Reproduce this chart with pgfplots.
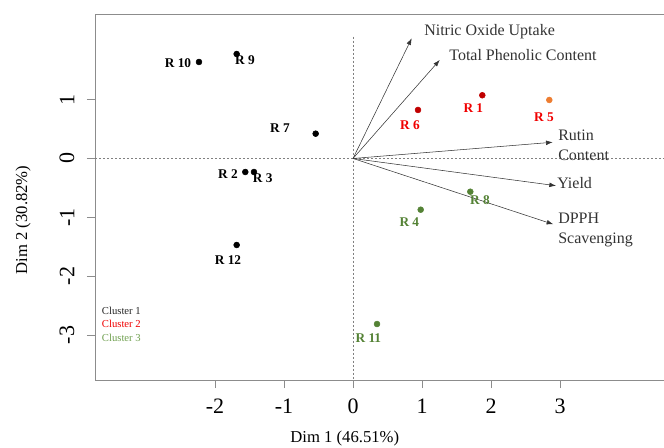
\documentclass[border=0pt]{standalone}
\usepackage{fontspec}
\setmainfont{Liberation Serif}
\usepackage{pgfplots}
\pgfplotsset{compat=1.18}
\usetikzlibrary{arrows.meta}

\definecolor{c1}{HTML}{000000}
\definecolor{c2pt}{HTML}{C00000}
\definecolor{c2lab}{HTML}{F00000}
\definecolor{c5pt}{HTML}{ED7D31}
\definecolor{c3}{HTML}{548235}
\definecolor{leg3}{HTML}{70A050}
\definecolor{vec}{HTML}{333333}
\definecolor{frame}{HTML}{8C8C8C}

\begin{document}
\begin{tikzpicture}
\begin{axis}[
    at={(71.25pt,50.25pt)}, anchor=south west,
    scale only axis,
    width=426.75pt, height=274.5pt,
    xmin=-3.739, xmax=4.507,
    ymin=-3.767, ymax=2.457,
    axis line style={draw=none},
    tick align=outside,
    xtick pos=left, ytick pos=left,
    major tick length=6pt,
    tick style={frame, thin},
    xtick={-2,-1,0,1,2,3},
    xticklabels={{-2},{-1},0,1,2,3},
    ytick={-3,-2,-1,0,1},
    yticklabels={{-3},{-2},{-1},0,1},
    ticklabel style={font=\fontsize{16.5}{18}\selectfont},
    xticklabel style={anchor=center, yshift=-14pt},
    yticklabel style={anchor=center, xshift=-15pt, rotate=90},
    xlabel={Dim 1 (46.51\%)},
    ylabel={Dim 2 (30.82\%)},
    every axis x label/.style={at={(axis description cs:0.439,0)}, anchor=center, yshift=-43.5pt, font=\fontsize{12.5}{14}\selectfont},
    every axis y label/.style={at={(axis description cs:0,0.437)}, anchor=center, xshift=-54pt, rotate=90, font=\fontsize{12.5}{14}\selectfont},
    clip=false,
]
% frame: left, bottom, top (right side runs off the picture)
\draw[frame] (rel axis cs:1,1) -- (rel axis cs:0,1) -- (rel axis cs:0,0) -- (rel axis cs:1,0);

% reference lines
\addplot[gray, thin, dash pattern=on 1.5pt off 1.5pt] coordinates {(-3.739,0) (4.507,0)};
\addplot[gray, thin, dash pattern=on 1.5pt off 1.5pt] coordinates {(0,2.071) (0,-3.767)};

% variable vectors
\tikzset{vlab/.style={anchor=west, inner sep=0pt, align=left, font=\fontsize{12}{15}\selectfont}}
\addplot[vec, thin, -{Latex[length=5pt,width=3.5pt]}] coordinates {(0,0) (0.851,2.044)}
    node[vlab, xshift=9.2pt, yshift=5pt] {Nitric Oxide Uptake};
\addplot[vec, thin, -{Latex[length=5pt,width=3.5pt]}] coordinates {(0,0) (1.257,1.675)}
    node[vlab, xshift=7pt, yshift=3.75pt] {Total Phenolic Content};
\addplot[vec, thin, -{Latex[length=5pt,width=3.5pt]}] coordinates {(0,0) (2.894,0.276)}
    node[vlab, xshift=4pt, yshift=-2pt] {Rutin\\Content};
\addplot[vec, thin, -{Latex[length=5pt,width=3.5pt]}] coordinates {(0,0) (2.942,-0.463)}
    node[vlab, xshift=0.75pt, yshift=2pt] {Yield};
\addplot[vec, thin, -{Latex[length=5pt,width=3.5pt]}] coordinates {(0,0) (2.903,-1.119)}
    node[vlab, xshift=3.5pt, yshift=-4.3pt] {DPPH\\Scavenging};

% individuals
\tikzset{plab/.style={inner sep=0pt, font=\fontsize{10}{12}\selectfont\bfseries}}
% cluster 1
\addplot[only marks, mark=*, mark size=2.2pt, c1] coordinates {(-2.232,1.641)} node[plab, text=c1, xshift=-15.75pt, yshift=-0.5pt] {R 10};
\addplot[only marks, mark=*, mark size=2.2pt, c1] coordinates {(-1.686,1.777)} node[plab, text=c1, xshift=6.2pt, yshift=-5pt] {R 9};
\addplot[only marks, mark=*, mark size=2.2pt, c1] coordinates {(-0.541,0.422)} node[plab, text=c1, xshift=-26.8pt, yshift=4.5pt] {R 7};
\addplot[only marks, mark=*, mark size=2.2pt, c1] coordinates {(-1.561,-0.230)} node[plab, text=c1, xshift=-13pt, yshift=-1.5pt] {R 2};
\addplot[only marks, mark=*, mark size=2.2pt, c1] coordinates {(-1.435,-0.230)} node[plab, text=c1, xshift=6.5pt, yshift=-4.5pt] {R 3};
\addplot[only marks, mark=*, mark size=2.2pt, c1] coordinates {(-1.686,-1.471)} node[plab, text=c1, xshift=-6.5pt, yshift=-11.25pt] {R 12};
% cluster 2
\addplot[only marks, mark=*, mark size=2.2pt, c2pt] coordinates {(0.942,0.825)} node[plab, text=c2lab, xshift=-6pt, yshift=-11.25pt] {R 6};
\addplot[only marks, mark=*, mark size=2.2pt, c2pt] coordinates {(1.874,1.075)} node[plab, text=c2lab, xshift=-6.75pt, yshift=-9.3pt] {R 1};
\addplot[only marks, mark=*, mark size=2.2pt, c5pt] coordinates {(2.845,0.995)} node[plab, text=c2lab, xshift=-4pt, yshift=-13pt] {R 5};
% cluster 3
\addplot[only marks, mark=*, mark size=2.2pt, c3] coordinates {(1.700,-0.565)} node[plab, text=c3, xshift=7.3pt, yshift=-6.2pt] {R 8};
\addplot[only marks, mark=*, mark size=2.2pt, c3] coordinates {(0.981,-0.871)} node[plab, text=c3, xshift=-8.5pt, yshift=-9.5pt] {R 4};
\addplot[only marks, mark=*, mark size=2.2pt, c3] coordinates {(0.348,-2.815)} node[plab, text=c3, xshift=-6.5pt, yshift=-10.7pt] {R 11};

% cluster key
\node[anchor=west, inner sep=0pt, align=left, font=\fontsize{8}{10}\selectfont] at (axis cs:-3.642,-2.82)
    {\textcolor{c1!85}{Cluster 1}\\\textcolor{c2lab}{Cluster 2}\\\textcolor{leg3}{Cluster 3}};
\end{axis}
\pgfresetboundingbox
\path[use as bounding box] (0,0) rectangle (498pt,335.25pt);
\end{tikzpicture}
\end{document}
